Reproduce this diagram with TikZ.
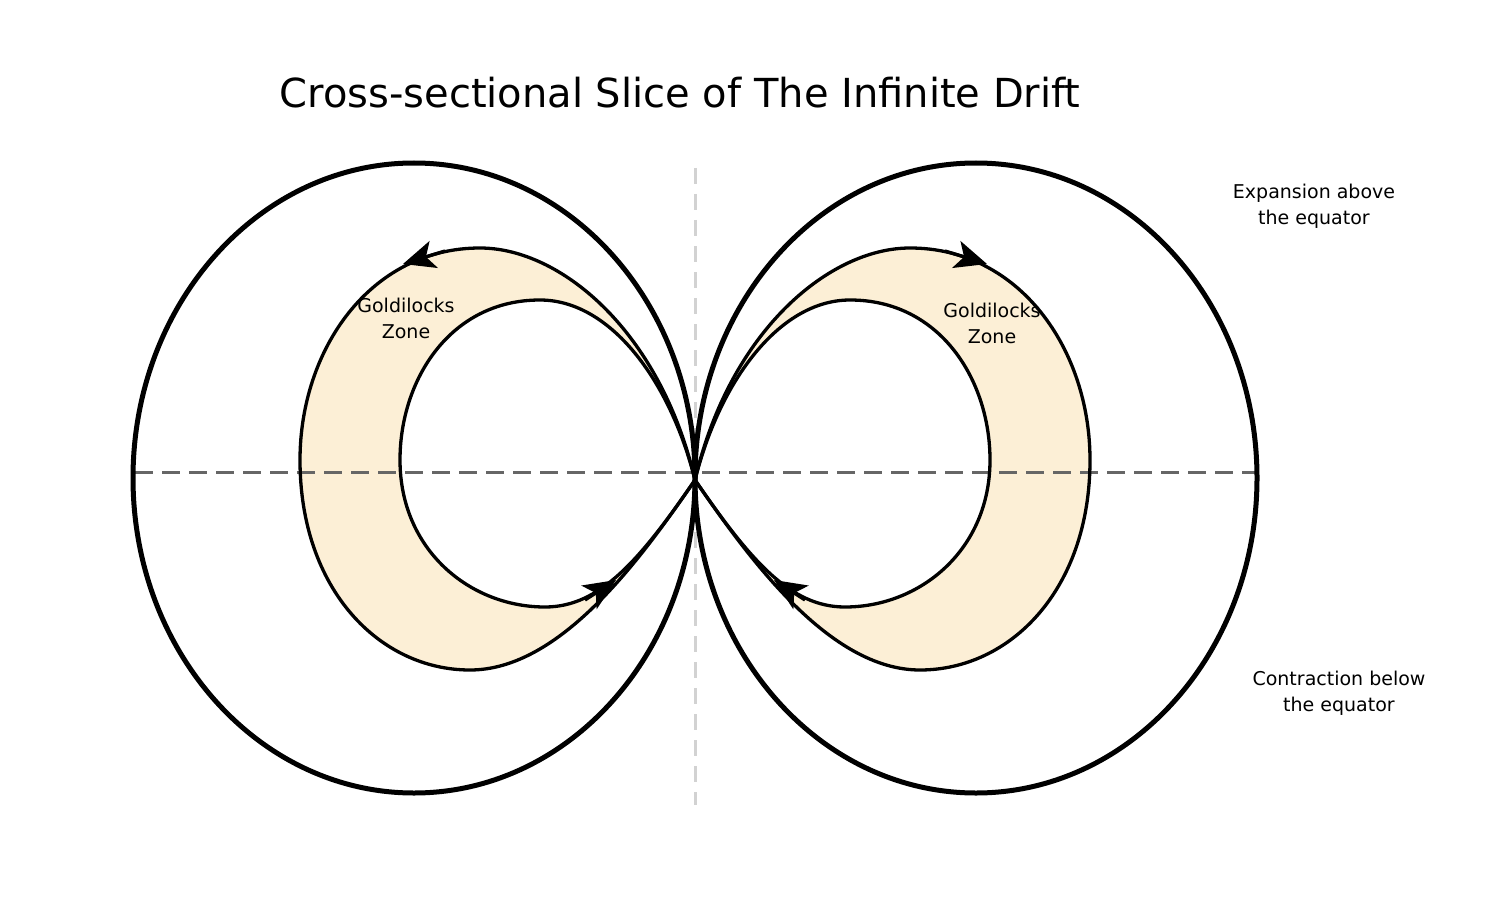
\documentclass[tikz,border=0pt]{standalone}
\usepackage{fontspec}
\setmainfont{DejaVu Sans}
\usetikzlibrary{arrows.meta}
\definecolor{cream}{HTML}{FCEFD6}
\begin{document}
\begin{tikzpicture}[x=1pt,y=-1pt,
  thick line/.style={line width=5pt,black},
  mid line/.style={line width=3.3pt,black},
  tip/.style={-{Stealth[length=32pt,width=28pt,inset=8pt]},line width=3.3pt},
  lbl/.style={font=\fontsize{19}{26}\selectfont,align=center}]
\useasboundingbox (0,0) rectangle (1496,920);
\fill[white] (0,0) rectangle (1496,920);
\coordinate (C) at (695,480);
\foreach \s/\sh in {1/0,-1/1390}{
\begin{scope}[shift={(\sh,0)},xscale=\s]
  \fill[fill=cream,even odd rule]
    (695,480) .. controls (660,330) and (560,248) .. (480,248)
      .. controls (370,248) and (300,350) .. (300,460)
      .. controls (300,590) and (380,670) .. (470,670)
      .. controls (560,670) and (640,560) .. (695,480) -- cycle
    (695,480) .. controls (670,380) and (610,300) .. (540,300)
      .. controls (450,300) and (400,380) .. (400,460)
      .. controls (400,550) and (470,607) .. (545,607)
      .. controls (600,607) and (640,560) .. (695,480) -- cycle;
\end{scope}}
\draw[gray!35,line width=3pt,dash pattern=on 16pt off 10pt] (695,168) -- (695,805);
\draw[black!60,line width=3pt,dash pattern=on 18pt off 9pt] (135,472) -- (1255,472);
\foreach \s/\sh in {1/0,-1/1390}{
\begin{scope}[shift={(\sh,0)},xscale=\s]
  \draw[thick line] (414,478) ellipse [x radius=281,y radius=315];
  \draw[mid line]
    (695,480) .. controls (660,330) and (560,248) .. (480,248)
      .. controls (370,248) and (300,350) .. (300,460)
      .. controls (300,590) and (380,670) .. (470,670)
      .. controls (560,670) and (640,560) .. (695,480);
  \draw[mid line]
    (695,480) .. controls (670,380) and (610,300) .. (540,300)
      .. controls (450,300) and (400,380) .. (400,460)
      .. controls (400,550) and (470,607) .. (545,607)
      .. controls (600,607) and (640,560) .. (695,480);
  \draw[tip] (445,251) -- (403,264);
  \draw[tip] (585,600) -- (616,580);
\end{scope}}
\node[font=\fontsize{40}{48}\selectfont] (title) at (680,93) {Cross-sectional Slice of The Infinite Drift};
\node[lbl] (gl) at (406,318) {Goldilocks\\Zone};
\node[lbl] (gr) at (992,323) {Goldilocks\\Zone};
\node[lbl] (ex) at (1314,206) {Expansion above\\the equator};
\node[lbl] (co) at (1339,693) {Contraction below\\the equator};
\end{tikzpicture}
\end{document}
